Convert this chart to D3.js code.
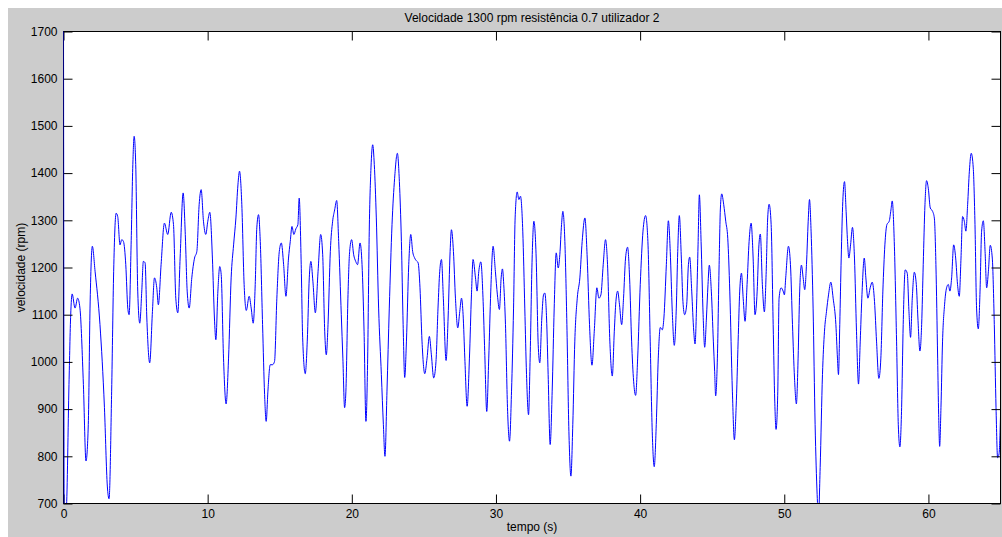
<!DOCTYPE html>
<html>
<head>
<meta charset="utf-8">
<script src="https://cdn.jsdelivr.net/npm/d3@7"></script>
<style>
  body { margin: 0; background: #ffffff; }
  svg text { font-family: "Liberation Sans", Arial, sans-serif; font-size: 12px; fill: #000; }
</style>
</head>
<body>
<svg id="chart" width="1002" height="537"></svg>
<script>
// tempo (s) and velocidade (rpm)
const tempo = [
  0, 0.03, 0.2, 0.38, 0.5, 0.6, 0.8, 0.98, 1.14, 1.38, 1.56, 1.72, 1.84, 2.0, 2.19, 2.53, 2.84, 3.04, 3.16, 3.34,
  3.48, 3.65, 3.76, 3.92, 4.04, 4.16, 4.32, 4.46, 4.55, 4.69, 4.81, 4.9, 5.01, 5.15, 5.29, 5.43, 5.54, 5.66, 5.78, 5.98,
  6.17, 6.31, 6.47, 6.58, 6.77, 7.0, 7.23, 7.47, 7.63, 7.79, 7.93, 8.09, 8.3, 8.44, 8.58, 8.72, 8.9, 9.09, 9.25, 9.41,
  9.55, 9.71, 9.87, 10.01, 10.15, 10.33, 10.47, 10.57, 10.71, 10.84, 10.94, 11.1, 11.28, 11.45, 11.63, 11.8, 11.96, 12.1, 12.21, 12.37,
  12.53, 12.68, 12.88, 13.02, 13.16, 13.3, 13.41, 13.53, 13.65, 13.81, 13.95, 14.06, 14.18, 14.34, 14.5, 14.64, 14.8, 14.97, 15.11, 15.27,
  15.43, 15.61, 15.73, 15.85, 15.98, 16.12, 16.26, 16.35, 16.49, 16.59, 16.77, 16.91, 17.05, 17.16, 17.3, 17.47, 17.66, 17.84, 17.98, 18.12,
  18.23, 18.35, 18.51, 18.67, 18.81, 18.95, 19.09, 19.27, 19.38, 19.5, 19.59, 19.73, 19.85, 19.99, 20.13, 20.27, 20.4, 20.57, 20.71, 20.85,
  20.98, 21.1, 21.21, 21.33, 21.45, 21.56, 21.7, 21.86, 22.05, 22.19, 22.3, 22.44, 22.6, 22.79, 22.97, 23.16, 23.3, 23.44, 23.56, 23.67,
  23.79, 23.95, 24.09, 24.22, 24.36, 24.52, 24.6, 24.73, 24.87, 25.06, 25.22, 25.38, 25.52, 25.68, 25.84, 25.98, 26.1, 26.22, 26.35, 26.54,
  26.68, 26.82, 26.91, 27.05, 27.19, 27.35, 27.49, 27.61, 27.72, 27.84, 28.0, 28.16, 28.3, 28.41, 28.58, 28.69, 28.81, 28.95, 29.11, 29.22,
  29.36, 29.5, 29.64, 29.8, 29.96, 30.1, 30.24, 30.36, 30.45, 30.54, 30.66, 30.8, 30.94, 31.08, 31.22, 31.33, 31.47, 31.59, 31.7, 31.86,
  32.0, 32.12, 32.26, 32.37, 32.51, 32.63, 32.79, 32.93, 33.04, 33.18, 33.3, 33.39, 33.51, 33.62, 33.76, 33.9, 34.04, 34.18, 34.32, 34.43,
  34.55, 34.64, 34.78, 34.92, 35.06, 35.2, 35.33, 35.47, 35.64, 35.82, 35.98, 36.17, 36.33, 36.49, 36.66, 36.82, 37.0, 37.14, 37.28, 37.44,
  37.6, 37.74, 37.9, 38.07, 38.21, 38.32, 38.44, 38.57, 38.72, 38.85, 38.99, 39.13, 39.27, 39.41, 39.55, 39.69, 39.83, 40.01, 40.2, 40.38,
  40.54, 40.7, 40.84, 40.98, 41.12, 41.26, 41.4, 41.54, 41.65, 41.82, 41.96, 42.09, 42.23, 42.37, 42.51, 42.61, 42.72, 42.86, 42.97, 43.09,
  43.23, 43.35, 43.44, 43.58, 43.72, 43.81, 43.93, 44.02, 44.11, 44.23, 44.37, 44.48, 44.6, 44.71, 44.8, 44.94, 45.08, 45.17, 45.24, 45.36,
  45.48, 45.57, 45.66, 45.8, 45.94, 46.08, 46.22, 46.4, 46.54, 46.66, 46.8, 46.91, 47.03, 47.15, 47.28, 47.42, 47.56, 47.7, 47.84, 47.97,
  48.12, 48.23, 48.34, 48.48, 48.62, 48.74, 48.85, 48.95, 49.09, 49.23, 49.34, 49.43, 49.55, 49.64, 49.78, 49.92, 50.01, 50.1, 50.29, 50.43,
  50.57, 50.71, 50.84, 50.96, 51.07, 51.19, 51.31, 51.42, 51.54, 51.66, 51.75, 51.86, 52.0, 52.14, 52.28, 52.37, 52.49, 52.65, 52.79, 52.93,
  53.07, 53.23, 53.39, 53.58, 53.69, 53.76, 53.85, 53.95, 54.06, 54.18, 54.29, 54.39, 54.48, 54.6, 54.73, 54.87, 55.01, 55.15, 55.27, 55.38,
  55.55, 55.66, 55.8, 55.96, 56.1, 56.26, 56.4, 56.56, 56.7, 56.84, 56.98, 57.12, 57.28, 57.4, 57.49, 57.63, 57.79, 57.91, 58.02, 58.14,
  58.25, 58.39, 58.53, 58.65, 58.76, 58.88, 59.02, 59.16, 59.27, 59.41, 59.53, 59.64, 59.76, 59.87, 59.99, 60.13, 60.29, 60.41, 60.52, 60.64,
  60.71, 60.78, 60.87, 60.98, 61.12, 61.26, 61.38, 61.49, 61.61, 61.75, 61.89, 62.02, 62.14, 62.26, 62.37, 62.49, 62.6, 62.72, 62.84, 62.97,
  63.11, 63.23, 63.34, 63.46, 63.58, 63.69, 63.81, 63.93, 64.04, 64.16, 64.29, 64.43, 64.57, 64.69, 64.8, 64.9, 65.0
];
const velocidade = [
  1750, 660, 690, 952, 1100, 1144, 1114, 1135, 1114, 952, 790, 867, 1114, 1245, 1192, 1079, 903, 737, 710, 938,
  1192, 1315, 1308, 1248, 1259, 1255, 1206, 1114, 1100, 1248, 1418, 1478, 1418, 1150, 1082, 1150, 1213, 1210, 1093, 998,
  1107, 1178, 1157, 1121, 1206, 1294, 1270, 1317, 1291, 1135, 1104, 1220, 1358, 1277, 1150, 1114, 1178, 1220, 1234, 1333,
  1365, 1298, 1270, 1298, 1317, 1220, 1093, 1047, 1150, 1202, 1185, 1008, 911, 1008, 1178, 1248, 1305, 1375, 1404, 1333,
  1164, 1109, 1139, 1114, 1082, 1164, 1284, 1312, 1255, 1079, 931, 874, 938, 994, 994, 1001, 1135, 1234, 1252, 1206,
  1139, 1220, 1255, 1287, 1270, 1282, 1291, 1347, 1206, 1051, 975, 1044, 1178, 1213, 1171, 1104, 1192, 1270, 1227, 1065,
  1015, 1079, 1234, 1298, 1322, 1342, 1255, 1100, 1008, 903, 938, 1135, 1234, 1259, 1227, 1213, 1206, 1252, 1206, 1065,
  874, 1008, 1277, 1411, 1460, 1418, 1305, 1114, 973, 867, 800, 938, 1114, 1291, 1389, 1442, 1382, 1255, 1079, 967,
  1044, 1206, 1270, 1234, 1220, 1213, 1210, 1157, 1044, 975, 1008, 1054, 1015, 966, 1001, 1114, 1192, 1217, 1135, 1003,
  1093, 1234, 1280, 1234, 1135, 1072, 1107, 1135, 1100, 1008, 906, 1008, 1142, 1217, 1178, 1150, 1192, 1212, 1128, 1022,
  895, 1008, 1150, 1245, 1192, 1142, 1111, 1178, 1197, 1164, 1079, 903, 832, 938, 1114, 1305, 1360, 1344, 1351, 1277,
  1114, 973, 888, 1008, 1220, 1298, 1220, 1037, 998, 1093, 1142, 1146, 1093, 973, 825, 938, 1114, 1231, 1199, 1227,
  1291, 1319, 1255, 1079, 853, 758, 867, 1044, 1135, 1178, 1255, 1305, 1220, 1079, 993, 1065, 1157, 1135, 1142, 1206,
  1259, 1206, 1044, 970, 1065, 1128, 1150, 1121, 1079, 1135, 1220, 1243, 1178, 1044, 959, 929, 1008, 1164, 1277, 1310,
  1255, 1044, 853, 778, 867, 1008, 1073, 1068, 1093, 1206, 1299, 1234, 1107, 1035, 1114, 1234, 1310, 1220, 1128, 1100,
  1121, 1206, 1222, 1150, 1065, 1038, 1135, 1248, 1354, 1255, 1100, 1031, 1093, 1164, 1205, 1150, 1044, 980, 928, 1008,
  1206, 1326, 1356, 1333, 1298, 1262, 1150, 938, 835, 903, 1044, 1150, 1188, 1135, 1086, 1164, 1255, 1294, 1220, 1100,
  1150, 1241, 1271, 1164, 1106, 1185, 1305, 1334, 1291, 1079, 917, 857, 938, 1135, 1157, 1150, 1142, 1178, 1245, 1206,
  1079, 966, 911, 1008, 1150, 1205, 1178, 1153, 1206, 1298, 1344, 1277, 1114, 867, 719, 670, 776, 973, 1065, 1107,
  1142, 1169, 1135, 1079, 1008, 973, 1079, 1220, 1340, 1382, 1319, 1255, 1220, 1248, 1285, 1220, 1065, 953, 1044, 1135,
  1220, 1178, 1135, 1157, 1169, 1128, 1044, 965, 1008, 1150, 1248, 1291, 1298, 1322, 1341, 1255, 1044, 867, 820, 903,
  1079, 1195, 1188, 1107, 1052, 1135, 1190, 1164, 1093, 1023, 1079, 1206, 1333, 1384, 1368, 1326, 1319, 1305, 1206, 1008,
  888, 821, 903, 1044, 1121, 1157, 1164, 1150, 1178, 1248, 1220, 1164, 1139, 1220, 1308, 1298, 1277, 1333, 1404, 1442,
  1411, 1291, 1114, 1070, 1150, 1277, 1299, 1234, 1157, 1192, 1247, 1220, 1079, 903, 797, 805, 885
];
const xTicks = [0, 10, 20, 30, 40, 50, 60];
const yTicks = [700, 800, 900, 1000, 1100, 1200, 1300, 1400, 1500, 1600, 1700];

const titulo = "Velocidade 1300 rpm resistência 0.7 utilizador 2";
const xLabel = "tempo (s)";
const yLabel = "velocidade (rpm)";

const W = 1002, H = 537;
const pL = 63.5, pR = 1000.5, pT = 31.5, pB = 503.5;

const svg = d3.select("#chart");

// figure background (MATLAB grey)
svg.append("rect")
  .attr("x", 8).attr("y", 8)
  .attr("width", W - 8).attr("height", H - 8)
  .attr("fill", "#cccccc");

svg.append("rect")
  .attr("x", pL).attr("y", pT)
  .attr("width", pR - pL).attr("height", pB - pT)
  .attr("fill", "#ffffff");

const x = d3.scaleLinear().domain([0, 65]).range([pL, pR]);
const y = d3.scaleLinear().domain([700, 1700]).range([pB, pT]);

svg.append("clipPath").attr("id", "plotClip")
  .append("rect")
  .attr("x", pL).attr("y", pT)
  .attr("width", pR - pL).attr("height", pB - pT);

const n = Math.min(tempo.length, velocidade.length);
const pts = d3.range(n).map(i => [tempo[i], velocidade[i]]);

const line = d3.line()
  .x(d => x(d[0]))
  .y(d => y(d[1]))
  .curve(d3.curveMonotoneX);

svg.append("path")
  .datum(pts)
  .attr("clip-path", "url(#plotClip)")
  .attr("fill", "none")
  .attr("stroke", "#0000ff")
  .attr("stroke-width", 1)
  .attr("d", line);

// axes with inward ticks on all four sides
const tk = 9;
const fmt = d3.format("d");
const gx = svg.append("g").attr("transform", `translate(0,${pB})`)
  .call(d3.axisBottom(x).tickValues(xTicks).tickFormat(fmt).tickSize(-tk).tickSizeOuter(0).tickPadding(6));
const gy = svg.append("g").attr("transform", `translate(${pL},0)`)
  .call(d3.axisLeft(y).tickValues(yTicks).tickFormat(fmt).tickSize(-tk).tickSizeOuter(0).tickPadding(6));
const gxt = svg.append("g").attr("transform", `translate(0,${pT})`)
  .call(d3.axisTop(x).tickValues(xTicks).tickSize(-tk).tickSizeOuter(0).tickFormat(""));
const gyr = svg.append("g").attr("transform", `translate(${pR},0)`)
  .call(d3.axisRight(y).tickValues(yTicks).tickSize(-tk).tickSizeOuter(0).tickFormat(""));

[gx, gy, gxt, gyr].forEach(g => {
  g.select(".domain").remove();
  g.selectAll("line").attr("stroke", "#000");
  g.selectAll("text")
    .style("font-family", '"Liberation Sans", Arial, sans-serif')
    .style("font-size", "12px")
    .attr("fill", "#000");
});

svg.append("rect")
  .attr("x", pL).attr("y", pT)
  .attr("width", pR - pL).attr("height", pB - pT)
  .attr("fill", "none")
  .attr("stroke", "#000");

// the first sample drops from above the box: keep that blue edge on top
svg.append("path")
  .datum(pts.slice(0, 3))
  .attr("clip-path", "url(#plotClip)")
  .attr("fill", "none")
  .attr("stroke", "#0000ff")
  .attr("d", line);

svg.append("text")
  .attr("x", (pL + pR) / 2).attr("y", 22)
  .attr("text-anchor", "middle")
  .text(titulo);

svg.append("text")
  .attr("x", (pL + pR) / 2).attr("y", 531)
  .attr("text-anchor", "middle")
  .text(xLabel);

svg.append("text")
  .attr("transform", `translate(25,${(pT + pB) / 2}) rotate(-90)`)
  .attr("text-anchor", "middle")
  .text(yLabel);
</script>
</body>
</html>
